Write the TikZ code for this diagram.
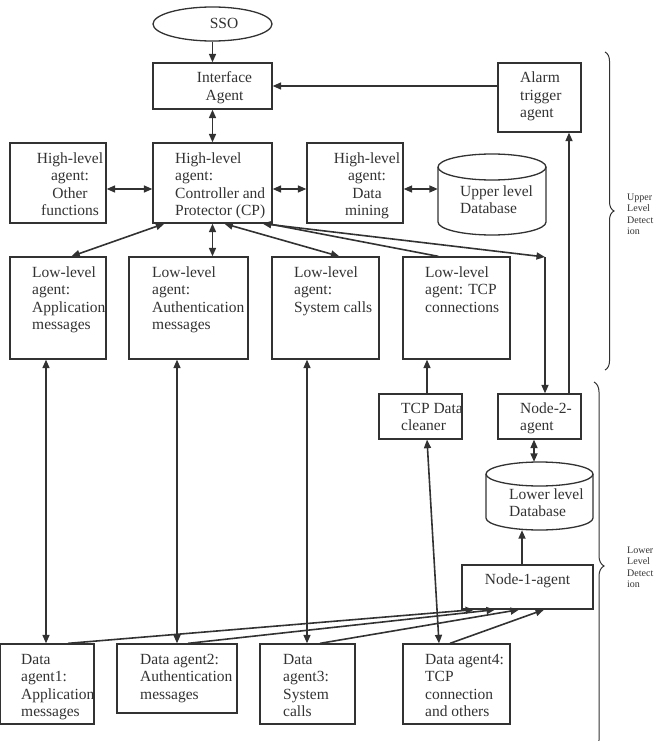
\documentclass[tikz,border=0pt]{standalone}
\usepackage{fontspec}
\setmainfont{Liberation Serif}
\usetikzlibrary{arrows.meta,decorations.pathreplacing,fit,calc,shapes.geometric}
\definecolor{ink}{RGB}{50,50,50}
\newcommand\Lblock[1]{\begin{tabular}[t]{@{}l@{}}#1\end{tabular}}
\newcommand\Cblock[1]{\begin{tabular}[t]{@{}c@{}}#1\end{tabular}}
\newcommand\mainfs{\fontsize{15.5}{17.5}\selectfont}
\newcommand\smallfs{\fontsize{10}{11.5}\selectfont}
\begin{document}
\begin{tikzpicture}[x=1pt,y=-1pt,
  box/.style={draw=ink, line width=1.3pt, inner sep=0pt, rectangle},
  area/.style={inner sep=0pt, rectangle},
  ltxt/.style={inner sep=0pt, anchor=base west, font=\mainfs, text=ink},
  ctxt/.style={inner sep=0pt, anchor=base, font=\mainfs, text=ink},
  stxt/.style={inner sep=0pt, anchor=base west, font=\smallfs, text=ink},
  conn/.style={draw=ink, line width=1.6pt},
  sgl/.style={conn, -{Triangle[length=8.5pt,width=7pt]}},
  dbl/.style={conn, {Triangle[length=8.5pt,width=7pt]}-{Triangle[length=8.5pt,width=7pt]}},
  bracestyle/.style={draw=ink, line width=1pt, decorate},
  cyl/.style={draw=ink, line width=1.3pt},
]
\useasboundingbox (0,0) rectangle (657,741);

% ---------- top ----------
\node[draw=ink, line width=1.3pt, ellipse, inner sep=0pt, minimum width=119pt, minimum height=34pt] (sso) at (212.5,24) {};
\node[ctxt] (ssot) at (224,29) {SSO};

\node[box, fit={(153,63) (272,109)}] (iface) {};
\node[ctxt] (ifacet) at (224.5,83) {\Cblock{Interface\\Agent}};

\node[box, fit={(498,63) (581,132)}] (alarm) {};
\node[ltxt] (alarmt) at (520,83) {\Lblock{Alarm\\trigger\\agent}};

% ---------- high level row ----------
\node[box, fit={(10,143) (106,223)}] (other) {};
\node[ctxt] (othert) at (70,163) {\Cblock{High-level\\agent:\\Other\\functions}};

\node[box, fit={(153,143) (272,223)}] (cp) {};
\node[ltxt] (cpt) at (175,163) {\Lblock{High-level\\agent:\\Controller and\\Protector (CP)}};

\node[box, fit={(307,143) (403,223)}] (dm) {};
\node[ctxt] (dmt) at (367,163) {\Cblock{High-level\\agent:\\Data\\mining}};

\node[area, fit={(438,154) (546,235)}] (udb) {};
\draw[cyl] (492,167) ellipse [x radius=54pt, y radius=13pt];
\draw[cyl] (438,167) -- (438,222) arc[start angle=180, end angle=360, x radius=54pt, y radius=13pt] -- (546,167);
\node[ltxt] (udbt) at (460,196) {\Lblock{Upper level\\Database}};

% ---------- low level row ----------
\node[box, fit={(10,257) (106,359)}] (lowapp) {};
\node[ltxt] (lowappt) at (32,277) {\Lblock{Low-level\\agent:\\Application\\messages}};

\node[box, fit={(129,257) (248,359)}] (lowauth) {};
\node[ltxt] (lowautht) at (152,277) {\Lblock{Low-level\\agent:\\Authentication\\messages}};

\node[box, fit={(272,257) (379,359)}] (lowsys) {};
\node[ltxt] (lowsyst) at (294,277) {\Lblock{Low-level\\agent:\\System calls}};

\node[box, fit={(403,257) (510,359)}] (lowtcp) {};
\node[ltxt] (lowtcpt) at (425,277) {\Lblock{Low-level\\agent: TCP\\connections}};

% ---------- middle right ----------
\node[box, fit={(379,394) (462,439)}] (clean) {};
\node[ltxt] (cleant) at (401,413) {\Lblock{TCP Data\\cleaner}};

\node[box, fit={(498,394) (581,439)}] (node2) {};
\node[ltxt] (node2t) at (520,413) {\Lblock{Node-2-\\agent}};

\node[area, fit={(486,462) (593,530)}] (ldb) {};
\draw[cyl] (539.5,474) ellipse [x radius=53.5pt, y radius=12pt];
\draw[cyl] (486,474) -- (486,518) arc[start angle=180, end angle=360, x radius=53.5pt, y radius=12pt] -- (593,474);
\node[ltxt] (ldbt) at (509,499) {\Lblock{Lower level\\Database}};

\node[box, fit={(462,565) (593,609)}] (node1) {};
\node[ctxt] (node1t) at (527.5,584) {Node-1-agent};

% ---------- data agents ----------
\node[box, fit={(0.7,644) (94,724)}] (data1) {};
\node[ltxt] (data1t) at (21,664) {\Lblock{Data\\agent1:\\Application\\messages}};

\node[box, fit={(117,644) (237,713)}] (data2) {};
\node[ltxt] (data2t) at (140,664) {\Lblock{Data agent2:\\Authentication\\messages}};

\node[box, fit={(260,644) (355,724)}] (data3) {};
\node[ltxt] (data3t) at (283,664) {\Lblock{Data\\agent3:\\System\\calls}};

\node[box, fit={(403,644) (510,724)}] (data4) {};
\node[ltxt] (data4t) at (425,664) {\Lblock{Data agent4:\\TCP\\connection\\and others}};

% ---------- connectors ----------
\draw[sgl] (sso.south) -- (iface.north);
\draw[sgl] (alarm.west |- 0,86) -- (iface.east |- 0,86);
\draw[dbl] (iface.south) -- (cp.north);
\draw[dbl] (other.east |- 0,189) -- (cp.west |- 0,189);
\draw[dbl] (cp.east |- 0,189) -- (dm.west |- 0,189);
\draw[dbl] (dm.east |- 0,189) -- (udb.west |- 0,189);

\draw[dbl] ($(cp.south west)+(12,0)$) -- ($(lowapp.north west)+(62,0)$);
\draw[dbl] (cp.south) -- (lowauth.north -| cp.south);
\draw[dbl] ($(cp.south west)+(72,0)$) -- ($(lowsys.north west)+(68,0)$);
\draw[conn] ($(cp.south east)+(-5,0)$) -- ($(lowtcp.north west)+(36,0)$);
\coordinate (turn) at (545,257);
\draw[dbl] ($(cp.south east)+(-10,0)$) -- (turn);
\draw[sgl] (turn) -- (turn |- node2.north);
\draw[sgl] (node2.north -| 569,0) -- (alarm.south -| 569,0);

\draw[sgl] (clean.north -| 427,0) -- (lowtcp.south -| 427,0);
\draw[dbl] (node2.south -| 534,0) -- (ldb.north -| 534,0);
\draw[sgl] (node1.north -| 522,0) -- (ldb.south -| 522,0);

\draw[dbl] (data1.north -| 46,0) -- (lowapp.south -| 46,0);
\draw[dbl] (data2.north -| 177,0) -- (lowauth.south -| 177,0);
\draw[dbl] (data3.north -| 307,0) -- (lowsys.south -| 307,0);
\draw[dbl] (data4.north -| 439,0) -- (clean.south -| 427,0);

\draw[sgl] (data1.north -| 68,0) -- (node1.south -| 474,0);
\draw[sgl] (data2.north -| 188,0) -- (node1.south -| 495,0);
\draw[sgl] (data3.north -| 320,0) -- (node1.south -| 519,0);
\draw[sgl] (data4.north -| 450,0) -- (node1.south -| 544,0);

% ---------- braces ----------
\draw[bracestyle, decoration={brace, amplitude=9pt}] (605,52) -- (605,370);
\draw[bracestyle, decoration={brace, amplitude=10pt}] (594,382) -- (594,750);
\node[stxt] (uplab) at (627,200) {\Lblock{Upper\\Level\\Detect\\ion}};
\node[stxt] (lowlab) at (627,553) {\Lblock{Lower\\Level\\Detect\\ion}};
\end{tikzpicture}
\end{document}
